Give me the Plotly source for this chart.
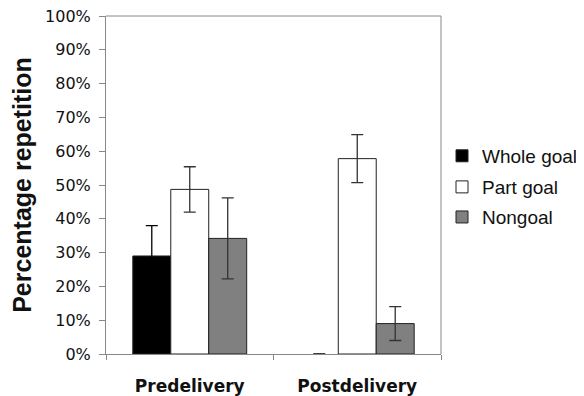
import plotly.graph_objects as go

categories = ["Predelivery", "Postdelivery"]
series_names = ["Whole goal", "Part goal", "Nongoal"]
whole_goal = [29.0, 0.0]
part_goal = [48.7, 57.8]
nongoal = [34.2, 9.0]
whole_goal_err = [9.0, 0.0]
part_goal_err = [6.7, 7.1]
nongoal_err = [12.0, 5.0]
y_ticks = [0, 10, 20, 30, 40, 50, 60, 70, 80, 90, 100]
y_tick_labels = [f"{v}%" for v in y_ticks]

fills = ["#000000", "#ffffff", "#808080"]
err_colors = ["#000000", "#333333", "#333333"]
values = [whole_goal, part_goal, nongoal]
errs = [whole_goal_err, part_goal_err, nongoal_err]
legend_ids = ["legend", "legend2", "legend3"]
legend_y = [0.586, 0.494, 0.405]

fig = go.Figure()
for name, vals, err, col, ecol, lid in zip(series_names, values, errs, fills, err_colors, legend_ids):
    fig.add_trace(go.Bar(
        x=categories, y=vals, name=name, legend=lid,
        marker=dict(color=col,
                    line=dict(color="#222222", width=[1 if v > 0 else 0 for v in vals])),
        error_y=dict(type="data", array=err, visible=True, color=ecol,
                     thickness=1.3, width=6),
    ))

legend_font = dict(family="Arial", size=19, color="#111111")
legends = {}
for lid, ly in zip(legend_ids, legend_y):
    legends[lid] = dict(x=1.003, y=ly, xanchor="left", yanchor="middle",
                        font=legend_font, itemwidth=30, bgcolor="rgba(0,0,0,0)")

# the page body adds an ~8px offset; sizes/margins compensate for it
fig.update_layout(
    width=576, height=388,
    margin=dict(l=98, r=143, t=8, b=42, autoexpand=False),
    paper_bgcolor="white", plot_bgcolor="white",
    barmode="group", bargap=0.32, bargroupgap=0,
    font=dict(family="DejaVu Sans", color="#111111"),
    showlegend=True,
    shapes=[
        dict(type="line", xref="paper", yref="paper", x0=0, x1=1, y0=1, y1=1,
             line=dict(color="#888888", width=1)),
        dict(type="line", xref="paper", yref="paper", x0=1, x1=1, y0=0, y1=1,
             line=dict(color="#888888", width=1)),
    ],
    **legends,
)
fig.update_yaxes(
    range=[0, 100], tickvals=y_ticks, ticktext=y_tick_labels,
    showgrid=False, showline=True, linecolor="#888888", linewidth=1,
    ticks="outside", ticklen=6, tickcolor="#888888",
    tickfont=dict(family="DejaVu Sans", size=16, color="#111111"),
    ticklabelstandoff=5, ticklabeloverflow="allow",
    title=dict(text="<b>Percentage repetition</b>",
               font=dict(family="Arial", size=25, color="#111111"), standoff=14),
    zeroline=False, automargin=False,
)
fig.update_xaxes(
    showline=True, linecolor="#888888", linewidth=1,
    ticks="outside", ticklen=5, tickcolor="#888888", tickson="boundaries",
    tickfont=dict(family="DejaVu Sans", size=17, color="#111111", weight="bold"),
    ticklabelstandoff=17, ticklabeloverflow="allow", automargin=False,
)

fig.write_html("out.html")
